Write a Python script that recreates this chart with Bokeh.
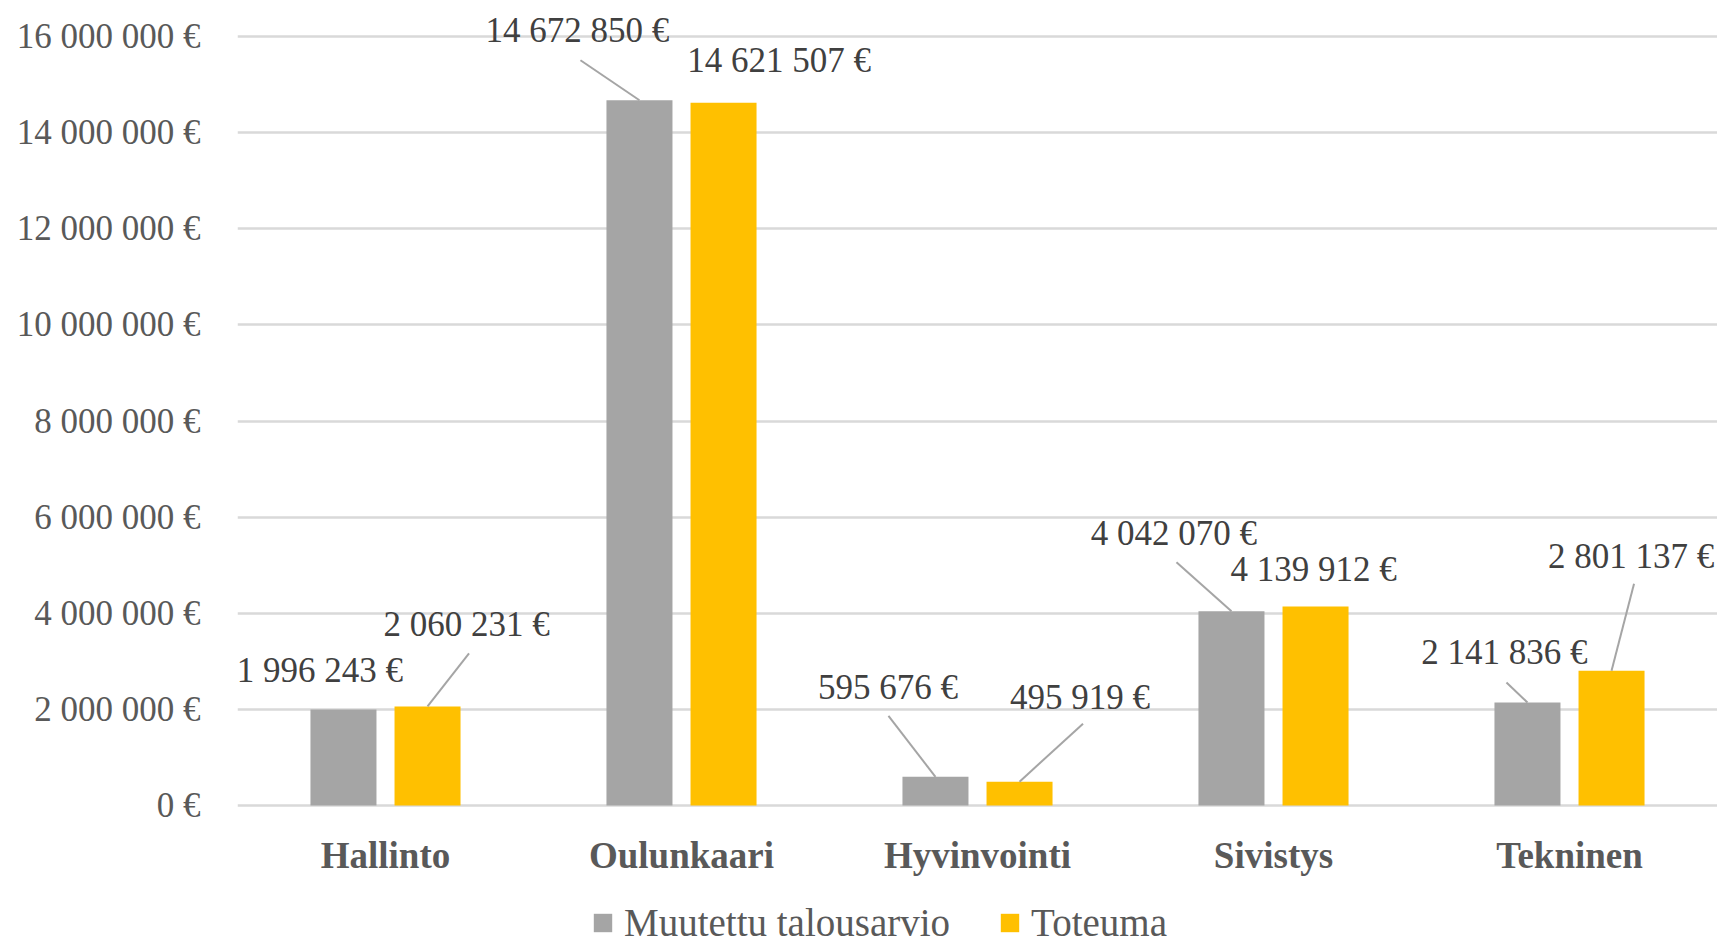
from bokeh.plotting import figure
from bokeh.models import Range1d, FixedTicker, Legend, LegendItem, ColumnDataSource
from bokeh.embed import file_html
from bokeh.resources import INLINE
from bokeh.core.properties import value

# ---------------- data ----------------
categories = ["Hallinto", "Oulunkaari", "Hyvinvointi", "Sivistys", "Tekninen"]
budget = [1996243, 14672850, 595676, 4042070, 2141836]      # Muutettu talousarvio
actual = [2060231, 14621507, 495919, 4139912, 2801137]      # Toteuma
series_names = ["Muutettu talousarvio", "Toteuma"]
y_ticks = [0, 2000000, 4000000, 6000000, 8000000, 10000000, 12000000, 14000000, 16000000]
y_tick_labels = ["0 €", "2 000 000 €", "4 000 000 €", "6 000 000 €", "8 000 000 €",
                 "10 000 000 €", "12 000 000 €", "14 000 000 €", "16 000 000 €"]

# ---------------- layout / style ----------------
W, H = 1717, 946
B_LEFT, B_RIGHT, B_TOP, B_BOTTOM = 237, 0, 12, 0
ZERO_PX = 805                      # canvas y of the 0 line
PPY = (805 - 36) / 16000000.0      # px per y unit
FRAME_W = W - B_LEFT - B_RIGHT
PX_PER_CAT = 296.0
PPX = PX_PER_CAT
X_START = -0.5
X_END = X_START + FRAME_W / PX_PER_CAT
Y_END = (ZERO_PX - B_TOP) / PPY
Y_START = -(H - B_BOTTOM - ZERO_PX) / PPY

DODGE = 0.142
BAR_W = 0.223
GRAY = "#a5a5a5"
YELLOW = "#ffc000"
FONT = "Liberation Serif"

# label offsets (px, screen; negative dy = up) relative to bar top centre
budget_label_offsets = [(-23.5, -39), (-62, -70), (-47.5, -89), (-57.5, -78), (-23, -50)]
actual_label_offsets = [(39, -82), (55.5, -42), (60.5, -84), (-2, -37), (19.5, -114)]
# leader line end points (px) relative to bar top centre, None = no leader
budget_leaders = [None, (-59, -40), (-47, -61), (-55, -49), (-21, -20)]
actual_leaders = [(41.5, -53), None, (63.5, -58), None, (22.5, -87)]


def fmt(v):
    return f"{v:,}".replace(",", " ") + " €"


p = figure(width=W, height=H, output_backend="svg", toolbar_location=None,
           x_range=Range1d(X_START, X_END), y_range=Range1d(Y_START, Y_END),
           min_border_left=B_LEFT, min_border_right=B_RIGHT,
           min_border_top=B_TOP, min_border_bottom=B_BOTTOM)
p.outline_line_color = None
p.background_fill_color = "white"
p.border_fill_color = "white"

idx = list(range(len(categories)))
xb = [i - DODGE for i in idx]
xa = [i + DODGE for i in idx]

r_b = p.vbar(x=xb, top=budget, width=BAR_W, fill_color=GRAY, line_color=None)
r_a = p.vbar(x=xa, top=actual, width=BAR_W, fill_color=YELLOW, line_color=None)

# leader lines
x0s, y0s, x1s, y1s = [], [], [], []
for xs, vals, leaders in ((xb, budget, budget_leaders), (xa, actual, actual_leaders)):
    for x, v, ld in zip(xs, vals, leaders):
        if ld is None:
            continue
        x0s.append(x)
        y0s.append(v)
        x1s.append(x + ld[0] / PPX)
        y1s.append(v - ld[1] / PPY)
p.segment(x0=x0s, y0=y0s, x1=x1s, y1=y1s, line_color=GRAY, line_width=2)

# data labels
lx, ly, lt, ldx, ldy = [], [], [], [], []
for xs, vals, offs in ((xb, budget, budget_label_offsets), (xa, actual, actual_label_offsets)):
    for x, v, o in zip(xs, vals, offs):
        lx.append(x)
        ly.append(v)
        lt.append(fmt(v))
        ldx.append(o[0])
        ldy.append(o[1])
src = ColumnDataSource(dict(x=lx, y=ly, t=lt, dx=ldx, dy=ldy))
p.text(x="x", y="y", text="t", x_offset="dx", y_offset="dy", source=src,
       text_font=value(FONT), text_font_size="35px", text_color="#404040",
       text_align="center", text_baseline="middle")

# axes
p.yaxis.ticker = FixedTicker(ticks=y_ticks)
p.yaxis.major_label_overrides = {t: l for t, l in zip(y_ticks, y_tick_labels)}
p.yaxis.axis_line_color = None
p.yaxis.major_tick_line_color = None
p.yaxis.minor_tick_line_color = None
p.yaxis.major_tick_in = 0
p.yaxis.major_tick_out = 0
p.yaxis.major_label_standoff = 37
p.yaxis.major_label_text_font = FONT
p.yaxis.major_label_text_font_size = "35px"
p.yaxis.major_label_text_color = "#595959"

p.xaxis.fixed_location = 0
p.xaxis.ticker = FixedTicker(ticks=idx)
p.xaxis.major_label_overrides = {i: c for i, c in zip(idx, categories)}
p.xaxis.axis_line_color = None
p.xaxis.major_tick_line_color = None
p.xaxis.minor_tick_line_color = None
p.xaxis.major_tick_in = 0
p.xaxis.major_tick_out = 0
p.xaxis.major_label_standoff = 29
p.xaxis.major_label_text_font = FONT
p.xaxis.major_label_text_font_size = "37px"
p.xaxis.major_label_text_font_style = "bold"
p.xaxis.major_label_text_color = "#595959"

p.xgrid.visible = False
p.ygrid.grid_line_color = "#d9d9d9"
p.ygrid.grid_line_width = 2.5

legend = Legend(items=[LegendItem(label=series_names[0], renderers=[r_b]),
                       LegendItem(label=series_names[1], renderers=[r_a])],
                location=(354, 1), orientation="horizontal",
                glyph_width=23, glyph_height=23, label_standoff=10, spacing=48,
                padding=0, margin=0, border_line_color=None,
                background_fill_alpha=0,
                label_text_font=FONT, label_text_font_size="39px",
                label_text_color="#595959")
p.add_layout(legend)

open("out.html", "w").write(file_html(p, INLINE))
